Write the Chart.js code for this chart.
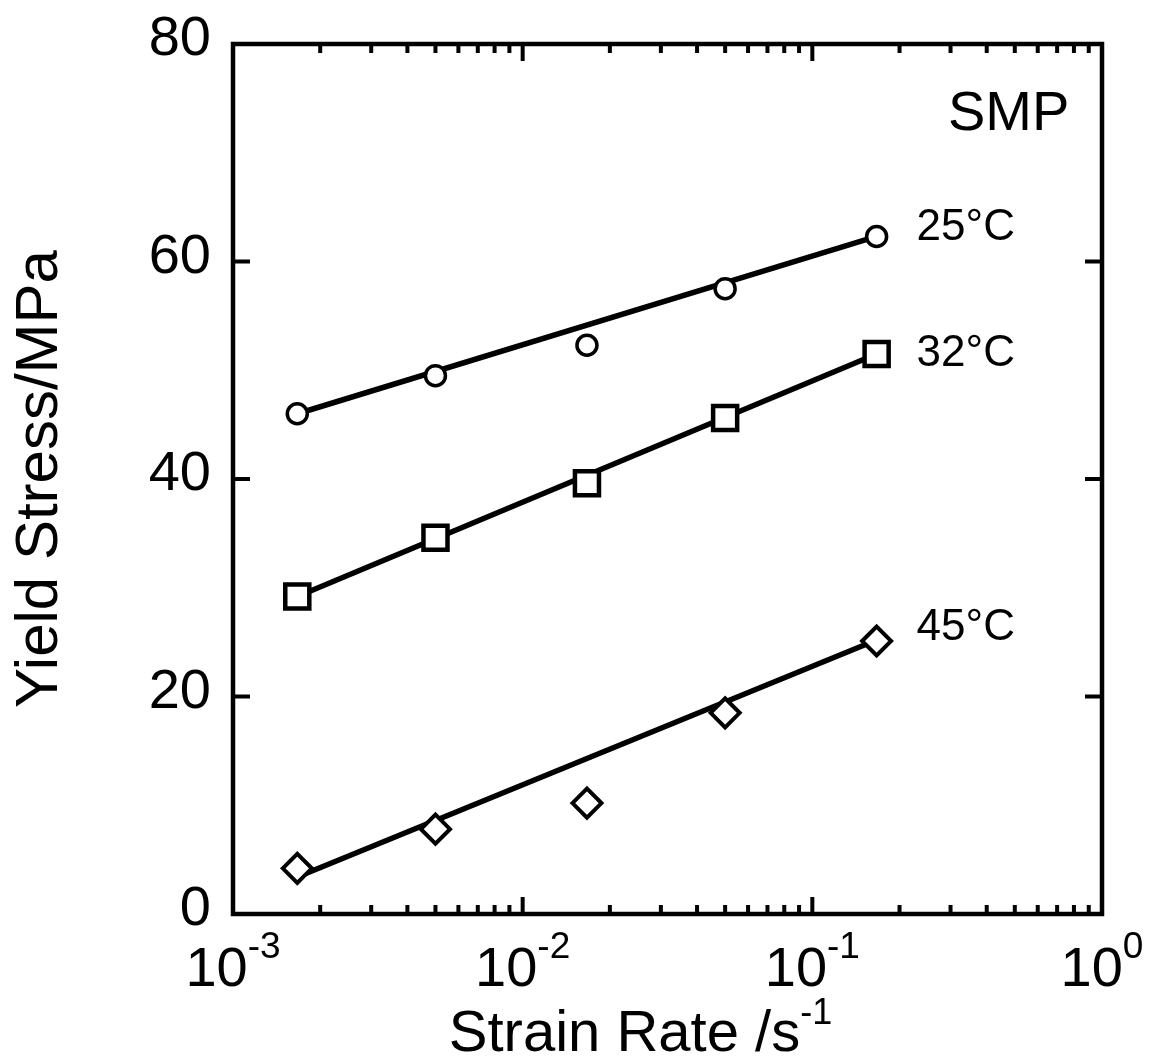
<!DOCTYPE html>
<html>
<head>
<meta charset="utf-8">
<script src="https://cdn.jsdelivr.net/npm/chart.js@4.4.1/dist/chart.umd.min.js"></script>
<style>
  html, body { margin: 0; padding: 0; background: #fff; }
  #wrap { width: 1149px; height: 1064px; }
</style>
</head>
<body>
<div id="wrap"><canvas id="yieldChart" width="1149" height="1064"></canvas></div>
<script>
// strain rates (1/s) and yield stress (MPa)
const strainRates = [1.667e-3, 5e-3, 1.667e-2, 5e-2, 1.667e-1];
const stress25 = [46.0, 49.5, 52.3, 57.5, 62.3];
const stress32 = [29.2, 34.6, 39.6, 45.6, 51.5];
const stress45 = [4.2, 7.8, 10.2, 18.5, 25.1];

// straight-line fits (ends)
const fitRates = [1.667e-3, 1.667e-1];
const fit25 = [46.0, 62.3];
const fit32 = [29.2, 51.5];
const fit45 = [3.4, 25.2];

const xDecades = [-3, -2, -1, 0];
const yTicks = [0, 20, 40, 60, 80];
const seriesLabels = ['25°C', '32°C', '45°C'];

const FONT = '"Liberation Sans", Arial, Helvetica, sans-serif';

const toPoints = (xs, ys) => xs.map((x, i) => ({ x, y: ys[i] }));

const markerSet = (data, style, radius, width) => ({
  data: toPoints(strainRates, data),
  showLine: false,
  pointStyle: style,
  pointRadius: radius,
  pointHoverRadius: radius,
  pointBorderWidth: width,
  pointBorderColor: '#000',
  pointBackgroundColor: '#fff'
});

const fitSet = data => ({
  data: toPoints(fitRates, data),
  showLine: true,
  borderColor: '#000',
  borderWidth: 5.5,
  pointRadius: 0,
  fill: false
});

// frame, inward ticks, tick labels, titles and annotations
const framePlugin = {
  id: 'frame',
  afterDraw(chart) {
    const { ctx, chartArea: { left, right, top, bottom }, scales: { x, y } } = chart;
    ctx.save();
    ctx.strokeStyle = '#000';
    ctx.fillStyle = '#000';

    // ticks along x (bottom and top)
    ctx.lineWidth = 4;
    xDecades.forEach(d => {
      for (let m = 1; m <= 9; m++) {
        if (d === 0 && m > 1) break;
        const px = x.getPixelForValue(m * Math.pow(10, d));
        const len = m === 1 ? 17 : 9;
        ctx.beginPath();
        ctx.moveTo(px, bottom); ctx.lineTo(px, bottom - len);
        ctx.moveTo(px, top); ctx.lineTo(px, top + len);
        ctx.stroke();
      }
    });
    // ticks along y (left and right)
    yTicks.forEach(v => {
      const py = y.getPixelForValue(v);
      ctx.beginPath();
      ctx.moveTo(left, py); ctx.lineTo(left + 17, py);
      ctx.moveTo(right, py); ctx.lineTo(right - 17, py);
      ctx.stroke();
    });

    // frame
    ctx.lineWidth = 4.5;
    ctx.strokeRect(left, top, right - left, bottom - top);

    // y tick labels
    ctx.font = '56px ' + FONT;
    ctx.textAlign = 'right';
    ctx.textBaseline = 'middle';
    yTicks.forEach(v => {
      ctx.fillText(String(v), left - 22, y.getPixelForValue(v) - 4);
    });

    // x tick labels 10^n
    xDecades.forEach(d => {
      const px = x.getPixelForValue(Math.pow(10, d));
      ctx.font = '56px ' + FONT;
      const baseW = ctx.measureText('10').width;
      ctx.font = '37px ' + FONT;
      const expW = ctx.measureText(String(d)).width;
      const start = px - (baseW + expW) / 2;
      ctx.textAlign = 'left';
      ctx.textBaseline = 'alphabetic';
      ctx.font = '56px ' + FONT;
      ctx.fillText('10', start, bottom + 72);
      ctx.font = '37px ' + FONT;
      ctx.fillText(String(d), start + baseW, bottom + 44);
    });

    // x title with superscript
    ctx.font = '58px ' + FONT;
    const main = 'Strain Rate /s';
    const mainW = ctx.measureText(main).width;
    ctx.font = '36px ' + FONT;
    const supW = ctx.measureText('-1').width;
    const tx = (left + right) / 2 - 27 - (mainW + supW) / 2;
    ctx.font = '58px ' + FONT;
    ctx.fillText(main, tx, bottom + 137);
    ctx.font = '36px ' + FONT;
    ctx.fillText('-1', tx + mainW, bottom + 110);

    // y title
    ctx.save();
    ctx.translate(40, (top + bottom) / 2);
    ctx.rotate(-Math.PI / 2);
    ctx.font = '60px ' + FONT;
    ctx.textAlign = 'center';
    ctx.textBaseline = 'middle';
    ctx.fillText('Yield Stress/MPa', 0, 0);
    ctx.restore();

    // annotations
    ctx.textAlign = 'left';
    ctx.textBaseline = 'middle';
    ctx.font = '56px ' + FONT;
    ctx.fillText('SMP', 948, y.getPixelForValue(73.5));
    ctx.font = '44px ' + FONT;
    const lastX = x.getPixelForValue(strainRates[strainRates.length - 1]);
    [[stress25, -9], [stress32, 0], [stress45, -13]].forEach(([arr, dy], i) => {
      const py = y.getPixelForValue(arr[arr.length - 1]) + dy;
      ctx.fillText(seriesLabels[i], lastX + 40, py);
    });
    ctx.restore();
  }
};

const ctx = document.getElementById('yieldChart').getContext('2d');

new Chart(ctx, {
  type: 'scatter',
  data: {
    datasets: [
      markerSet(stress25, 'circle', 10, 3.5),
      markerSet(stress32, 'rect', 17, 4.5),
      markerSet(stress45, 'rectRot', 14.5, 4),
      fitSet(fit25),
      fitSet(fit32),
      fitSet(fit45)
    ]
  },
  options: {
    responsive: false,
    animation: false,
    layout: { padding: { left: 233, right: 47, top: 44, bottom: 150 } },
    plugins: {
      legend: { display: false },
      tooltip: { enabled: false }
    },
    scales: {
      x: { type: 'logarithmic', min: 1e-3, max: 1, display: false },
      y: { type: 'linear', min: 0, max: 80, display: false }
    }
  },
  plugins: [framePlugin]
});
</script>
</body>
</html>
